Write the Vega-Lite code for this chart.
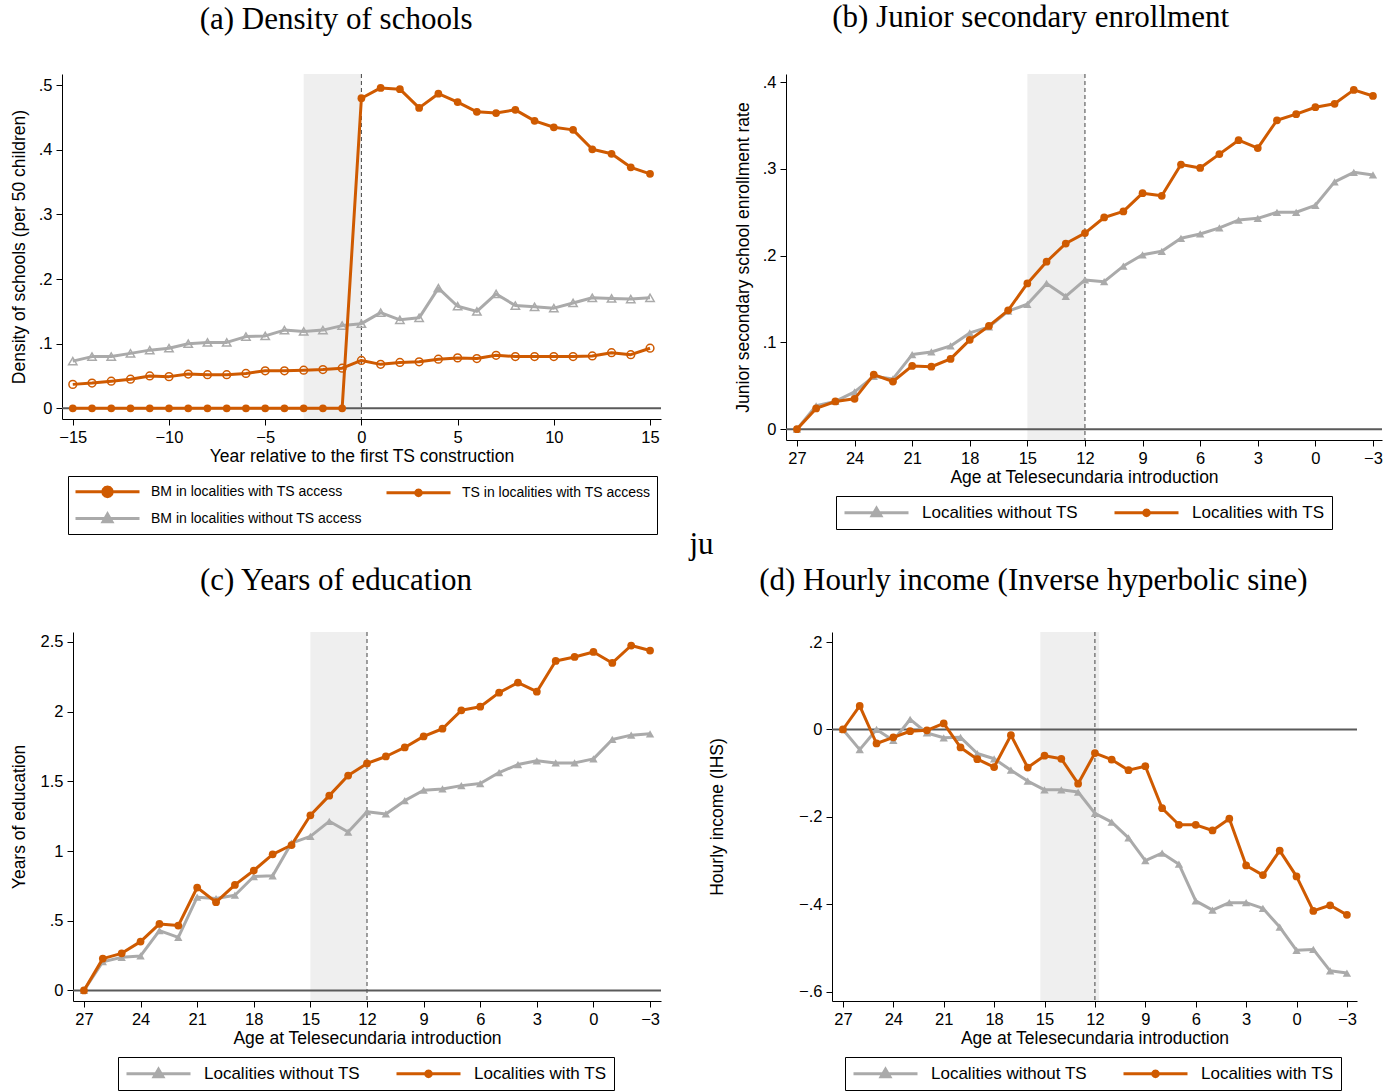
{
  "$schema": "https://vega.github.io/schema/vega-lite/v6.json",
  "background": "white",
  "padding": {"left": 9, "top": 1, "right": 0, "bottom": 0},
  "spacing": -7,
  "config": {
    "font": "Liberation Sans",
    "view": {"stroke": null},
    "axis": {"grid": false, "domainColor": "black", "tickColor": "black", "labelColor": "black", "titleColor": "black", "labelFontSize": 16.5, "titleFontSize": 17.5, "titleFontWeight": "normal", "tickSize": 6, "labelPadding": 4, "labelFlush": false, "labelOverlap": false, "labelFont": "Liberation Sans", "titleFont": "Liberation Sans"},
    "axisY": {"labelAngle": 0, "titlePadding": 10},
    "axisX": {"titlePadding": 2},
    "title": {"font": "Liberation Serif", "fontSize": 31, "fontWeight": "normal", "color": "black", "anchor": "middle", "frame": "bounds"},
    "legend": {"labelFont": "Liberation Sans", "labelColor": "black", "strokeColor": "black", "fillColor": "white", "symbolSize": 256, "symbolStrokeWidth": 3, "labelOffset": 60, "padding": 7, "columnPadding": 30, "rowPadding": 9, "labelLimit": 400, "direction": "horizontal"}
  },
  "resolve": {"scale": {"x": "independent", "y": "independent", "color": "independent"}, "legend": {"color": "independent"}, "axis": {"x": "independent", "y": "independent"}},
  "datasets": {
    "empty": [],
    "bands": [
      {"panel": "a", "start": -3, "end": 0, "event": 0},
      {"panel": "b", "start": 15, "end": 12, "event": 12},
      {"panel": "c", "start": 15, "end": 12, "event": 12},
      {"panel": "d", "start": 15.25, "end": 11.75, "event": 12}
    ],
    "a": [
      {"year": -15, "series": "BM in localities without TS access", "value": 0.073},
      {"year": -14, "series": "BM in localities without TS access", "value": 0.080},
      {"year": -13, "series": "BM in localities without TS access", "value": 0.080},
      {"year": -12, "series": "BM in localities without TS access", "value": 0.085},
      {"year": -11, "series": "BM in localities without TS access", "value": 0.090},
      {"year": -10, "series": "BM in localities without TS access", "value": 0.093},
      {"year": -9, "series": "BM in localities without TS access", "value": 0.100},
      {"year": -8, "series": "BM in localities without TS access", "value": 0.102},
      {"year": -7, "series": "BM in localities without TS access", "value": 0.102},
      {"year": -6, "series": "BM in localities without TS access", "value": 0.111},
      {"year": -5, "series": "BM in localities without TS access", "value": 0.112},
      {"year": -4, "series": "BM in localities without TS access", "value": 0.121},
      {"year": -3, "series": "BM in localities without TS access", "value": 0.119},
      {"year": -2, "series": "BM in localities without TS access", "value": 0.121},
      {"year": -1, "series": "BM in localities without TS access", "value": 0.128},
      {"year": 0, "series": "BM in localities without TS access", "value": 0.131},
      {"year": 1, "series": "BM in localities without TS access", "value": 0.148},
      {"year": 2, "series": "BM in localities without TS access", "value": 0.137},
      {"year": 3, "series": "BM in localities without TS access", "value": 0.140},
      {"year": 4, "series": "BM in localities without TS access", "value": 0.186},
      {"year": 5, "series": "BM in localities without TS access", "value": 0.158},
      {"year": 6, "series": "BM in localities without TS access", "value": 0.150},
      {"year": 7, "series": "BM in localities without TS access", "value": 0.177},
      {"year": 8, "series": "BM in localities without TS access", "value": 0.159},
      {"year": 9, "series": "BM in localities without TS access", "value": 0.157},
      {"year": 10, "series": "BM in localities without TS access", "value": 0.155},
      {"year": 11, "series": "BM in localities without TS access", "value": 0.163},
      {"year": 12, "series": "BM in localities without TS access", "value": 0.171},
      {"year": 13, "series": "BM in localities without TS access", "value": 0.170},
      {"year": 14, "series": "BM in localities without TS access", "value": 0.169},
      {"year": 15, "series": "BM in localities without TS access", "value": 0.171},
      {"year": -15, "series": "BM in localities with TS access", "value": 0.037},
      {"year": -14, "series": "BM in localities with TS access", "value": 0.039},
      {"year": -13, "series": "BM in localities with TS access", "value": 0.042},
      {"year": -12, "series": "BM in localities with TS access", "value": 0.045},
      {"year": -11, "series": "BM in localities with TS access", "value": 0.050},
      {"year": -10, "series": "BM in localities with TS access", "value": 0.049},
      {"year": -9, "series": "BM in localities with TS access", "value": 0.053},
      {"year": -8, "series": "BM in localities with TS access", "value": 0.052},
      {"year": -7, "series": "BM in localities with TS access", "value": 0.052},
      {"year": -6, "series": "BM in localities with TS access", "value": 0.054},
      {"year": -5, "series": "BM in localities with TS access", "value": 0.058},
      {"year": -4, "series": "BM in localities with TS access", "value": 0.058},
      {"year": -3, "series": "BM in localities with TS access", "value": 0.059},
      {"year": -2, "series": "BM in localities with TS access", "value": 0.060},
      {"year": -1, "series": "BM in localities with TS access", "value": 0.062},
      {"year": 0, "series": "BM in localities with TS access", "value": 0.074},
      {"year": 1, "series": "BM in localities with TS access", "value": 0.068},
      {"year": 2, "series": "BM in localities with TS access", "value": 0.071},
      {"year": 3, "series": "BM in localities with TS access", "value": 0.072},
      {"year": 4, "series": "BM in localities with TS access", "value": 0.076},
      {"year": 5, "series": "BM in localities with TS access", "value": 0.078},
      {"year": 6, "series": "BM in localities with TS access", "value": 0.077},
      {"year": 7, "series": "BM in localities with TS access", "value": 0.082},
      {"year": 8, "series": "BM in localities with TS access", "value": 0.080},
      {"year": 9, "series": "BM in localities with TS access", "value": 0.080},
      {"year": 10, "series": "BM in localities with TS access", "value": 0.080},
      {"year": 11, "series": "BM in localities with TS access", "value": 0.080},
      {"year": 12, "series": "BM in localities with TS access", "value": 0.081},
      {"year": 13, "series": "BM in localities with TS access", "value": 0.086},
      {"year": 14, "series": "BM in localities with TS access", "value": 0.083},
      {"year": 15, "series": "BM in localities with TS access", "value": 0.093},
      {"year": -15, "series": "TS in localities with TS access", "value": 0},
      {"year": -14, "series": "TS in localities with TS access", "value": 0},
      {"year": -13, "series": "TS in localities with TS access", "value": 0},
      {"year": -12, "series": "TS in localities with TS access", "value": 0},
      {"year": -11, "series": "TS in localities with TS access", "value": 0},
      {"year": -10, "series": "TS in localities with TS access", "value": 0},
      {"year": -9, "series": "TS in localities with TS access", "value": 0},
      {"year": -8, "series": "TS in localities with TS access", "value": 0},
      {"year": -7, "series": "TS in localities with TS access", "value": 0},
      {"year": -6, "series": "TS in localities with TS access", "value": 0},
      {"year": -5, "series": "TS in localities with TS access", "value": 0},
      {"year": -4, "series": "TS in localities with TS access", "value": 0},
      {"year": -3, "series": "TS in localities with TS access", "value": 0},
      {"year": -2, "series": "TS in localities with TS access", "value": 0},
      {"year": -1, "series": "TS in localities with TS access", "value": 0},
      {"year": 0, "series": "TS in localities with TS access", "value": 0.480},
      {"year": 1, "series": "TS in localities with TS access", "value": 0.496},
      {"year": 2, "series": "TS in localities with TS access", "value": 0.494},
      {"year": 3, "series": "TS in localities with TS access", "value": 0.465},
      {"year": 4, "series": "TS in localities with TS access", "value": 0.487},
      {"year": 5, "series": "TS in localities with TS access", "value": 0.474},
      {"year": 6, "series": "TS in localities with TS access", "value": 0.459},
      {"year": 7, "series": "TS in localities with TS access", "value": 0.457},
      {"year": 8, "series": "TS in localities with TS access", "value": 0.462},
      {"year": 9, "series": "TS in localities with TS access", "value": 0.445},
      {"year": 10, "series": "TS in localities with TS access", "value": 0.435},
      {"year": 11, "series": "TS in localities with TS access", "value": 0.431},
      {"year": 12, "series": "TS in localities with TS access", "value": 0.401},
      {"year": 13, "series": "TS in localities with TS access", "value": 0.394},
      {"year": 14, "series": "TS in localities with TS access", "value": 0.373},
      {"year": 15, "series": "TS in localities with TS access", "value": 0.363}
    ],
    "b": [
      {"age": 27, "series": "Localities without TS", "value": 0},
      {"age": 26, "series": "Localities without TS", "value": 0.027},
      {"age": 25, "series": "Localities without TS", "value": 0.032},
      {"age": 24, "series": "Localities without TS", "value": 0.043},
      {"age": 23, "series": "Localities without TS", "value": 0.061},
      {"age": 22, "series": "Localities without TS", "value": 0.058},
      {"age": 21, "series": "Localities without TS", "value": 0.086},
      {"age": 20, "series": "Localities without TS", "value": 0.089},
      {"age": 19, "series": "Localities without TS", "value": 0.096},
      {"age": 18, "series": "Localities without TS", "value": 0.111},
      {"age": 17, "series": "Localities without TS", "value": 0.118},
      {"age": 16, "series": "Localities without TS", "value": 0.136},
      {"age": 15, "series": "Localities without TS", "value": 0.144},
      {"age": 14, "series": "Localities without TS", "value": 0.168},
      {"age": 13, "series": "Localities without TS", "value": 0.153},
      {"age": 12, "series": "Localities without TS", "value": 0.172},
      {"age": 11, "series": "Localities without TS", "value": 0.170},
      {"age": 10, "series": "Localities without TS", "value": 0.188},
      {"age": 9, "series": "Localities without TS", "value": 0.201},
      {"age": 8, "series": "Localities without TS", "value": 0.205},
      {"age": 7, "series": "Localities without TS", "value": 0.220},
      {"age": 6, "series": "Localities without TS", "value": 0.225},
      {"age": 5, "series": "Localities without TS", "value": 0.232},
      {"age": 4, "series": "Localities without TS", "value": 0.241},
      {"age": 3, "series": "Localities without TS", "value": 0.243},
      {"age": 2, "series": "Localities without TS", "value": 0.250},
      {"age": 1, "series": "Localities without TS", "value": 0.250},
      {"age": 0, "series": "Localities without TS", "value": 0.258},
      {"age": -1, "series": "Localities without TS", "value": 0.285},
      {"age": -2, "series": "Localities without TS", "value": 0.296},
      {"age": -3, "series": "Localities without TS", "value": 0.293},
      {"age": 27, "series": "Localities with TS", "value": 0},
      {"age": 26, "series": "Localities with TS", "value": 0.024},
      {"age": 25, "series": "Localities with TS", "value": 0.032},
      {"age": 24, "series": "Localities with TS", "value": 0.035},
      {"age": 23, "series": "Localities with TS", "value": 0.063},
      {"age": 22, "series": "Localities with TS", "value": 0.055},
      {"age": 21, "series": "Localities with TS", "value": 0.073},
      {"age": 20, "series": "Localities with TS", "value": 0.072},
      {"age": 19, "series": "Localities with TS", "value": 0.081},
      {"age": 18, "series": "Localities with TS", "value": 0.103},
      {"age": 17, "series": "Localities with TS", "value": 0.119},
      {"age": 16, "series": "Localities with TS", "value": 0.137},
      {"age": 15, "series": "Localities with TS", "value": 0.168},
      {"age": 14, "series": "Localities with TS", "value": 0.193},
      {"age": 13, "series": "Localities with TS", "value": 0.214},
      {"age": 12, "series": "Localities with TS", "value": 0.226},
      {"age": 11, "series": "Localities with TS", "value": 0.244},
      {"age": 10, "series": "Localities with TS", "value": 0.251},
      {"age": 9, "series": "Localities with TS", "value": 0.272},
      {"age": 8, "series": "Localities with TS", "value": 0.269},
      {"age": 7, "series": "Localities with TS", "value": 0.305},
      {"age": 6, "series": "Localities with TS", "value": 0.301},
      {"age": 5, "series": "Localities with TS", "value": 0.317},
      {"age": 4, "series": "Localities with TS", "value": 0.333},
      {"age": 3, "series": "Localities with TS", "value": 0.324},
      {"age": 2, "series": "Localities with TS", "value": 0.356},
      {"age": 1, "series": "Localities with TS", "value": 0.363},
      {"age": 0, "series": "Localities with TS", "value": 0.371},
      {"age": -1, "series": "Localities with TS", "value": 0.375},
      {"age": -2, "series": "Localities with TS", "value": 0.391},
      {"age": -3, "series": "Localities with TS", "value": 0.384}
    ],
    "c": [
      {"age": 27, "series": "Localities without TS", "value": 0},
      {"age": 26, "series": "Localities without TS", "value": 0.206},
      {"age": 25, "series": "Localities without TS", "value": 0.237},
      {"age": 24, "series": "Localities without TS", "value": 0.247},
      {"age": 23, "series": "Localities without TS", "value": 0.429},
      {"age": 22, "series": "Localities without TS", "value": 0.381},
      {"age": 21, "series": "Localities without TS", "value": 0.669},
      {"age": 20, "series": "Localities without TS", "value": 0.659},
      {"age": 19, "series": "Localities without TS", "value": 0.683},
      {"age": 18, "series": "Localities without TS", "value": 0.817},
      {"age": 17, "series": "Localities without TS", "value": 0.822},
      {"age": 16, "series": "Localities without TS", "value": 1.057},
      {"age": 15, "series": "Localities without TS", "value": 1.105},
      {"age": 14, "series": "Localities without TS", "value": 1.213},
      {"age": 13, "series": "Localities without TS", "value": 1.136},
      {"age": 12, "series": "Localities without TS", "value": 1.282},
      {"age": 11, "series": "Localities without TS", "value": 1.266},
      {"age": 10, "series": "Localities without TS", "value": 1.361},
      {"age": 9, "series": "Localities without TS", "value": 1.436},
      {"age": 8, "series": "Localities without TS", "value": 1.445},
      {"age": 7, "series": "Localities without TS", "value": 1.469},
      {"age": 6, "series": "Localities without TS", "value": 1.484},
      {"age": 5, "series": "Localities without TS", "value": 1.563},
      {"age": 4, "series": "Localities without TS", "value": 1.620},
      {"age": 3, "series": "Localities without TS", "value": 1.647},
      {"age": 2, "series": "Localities without TS", "value": 1.632},
      {"age": 1, "series": "Localities without TS", "value": 1.632},
      {"age": 0, "series": "Localities without TS", "value": 1.661},
      {"age": -1, "series": "Localities without TS", "value": 1.800},
      {"age": -2, "series": "Localities without TS", "value": 1.831},
      {"age": -3, "series": "Localities without TS", "value": 1.841},
      {"age": 27, "series": "Localities with TS", "value": 0},
      {"age": 26, "series": "Localities with TS", "value": 0.228},
      {"age": 25, "series": "Localities with TS", "value": 0.266},
      {"age": 24, "series": "Localities with TS", "value": 0.350},
      {"age": 23, "series": "Localities with TS", "value": 0.477},
      {"age": 22, "series": "Localities with TS", "value": 0.465},
      {"age": 21, "series": "Localities with TS", "value": 0.738},
      {"age": 20, "series": "Localities with TS", "value": 0.633},
      {"age": 19, "series": "Localities with TS", "value": 0.757},
      {"age": 18, "series": "Localities with TS", "value": 0.860},
      {"age": 17, "series": "Localities with TS", "value": 0.976},
      {"age": 16, "series": "Localities with TS", "value": 1.043},
      {"age": 15, "series": "Localities with TS", "value": 1.256},
      {"age": 14, "series": "Localities with TS", "value": 1.397},
      {"age": 13, "series": "Localities with TS", "value": 1.541},
      {"age": 12, "series": "Localities with TS", "value": 1.628},
      {"age": 11, "series": "Localities with TS", "value": 1.678},
      {"age": 10, "series": "Localities with TS", "value": 1.743},
      {"age": 9, "series": "Localities with TS", "value": 1.822},
      {"age": 8, "series": "Localities with TS", "value": 1.877},
      {"age": 7, "series": "Localities with TS", "value": 2.009},
      {"age": 6, "series": "Localities with TS", "value": 2.035},
      {"age": 5, "series": "Localities with TS", "value": 2.136},
      {"age": 4, "series": "Localities with TS", "value": 2.208},
      {"age": 3, "series": "Localities with TS", "value": 2.143},
      {"age": 2, "series": "Localities with TS", "value": 2.363},
      {"age": 1, "series": "Localities with TS", "value": 2.392},
      {"age": 0, "series": "Localities with TS", "value": 2.428},
      {"age": -1, "series": "Localities with TS", "value": 2.349},
      {"age": -2, "series": "Localities with TS", "value": 2.474},
      {"age": -3, "series": "Localities with TS", "value": 2.438}
    ],
    "d": [
      {"age": 27, "series": "Localities without TS", "value": 0},
      {"age": 26, "series": "Localities without TS", "value": -0.046},
      {"age": 25, "series": "Localities without TS", "value": 0},
      {"age": 24, "series": "Localities without TS", "value": -0.025},
      {"age": 23, "series": "Localities without TS", "value": 0.023},
      {"age": 22, "series": "Localities without TS", "value": -0.008},
      {"age": 21, "series": "Localities without TS", "value": -0.019},
      {"age": 20, "series": "Localities without TS", "value": -0.018},
      {"age": 19, "series": "Localities without TS", "value": -0.055},
      {"age": 18, "series": "Localities without TS", "value": -0.067},
      {"age": 17, "series": "Localities without TS", "value": -0.093},
      {"age": 16, "series": "Localities without TS", "value": -0.118},
      {"age": 15, "series": "Localities without TS", "value": -0.138},
      {"age": 14, "series": "Localities without TS", "value": -0.138},
      {"age": 13, "series": "Localities without TS", "value": -0.143},
      {"age": 12, "series": "Localities without TS", "value": -0.192},
      {"age": 11, "series": "Localities without TS", "value": -0.212},
      {"age": 10, "series": "Localities without TS", "value": -0.248},
      {"age": 9, "series": "Localities without TS", "value": -0.300},
      {"age": 8, "series": "Localities without TS", "value": -0.283},
      {"age": 7, "series": "Localities without TS", "value": -0.308},
      {"age": 6, "series": "Localities without TS", "value": -0.392},
      {"age": 5, "series": "Localities without TS", "value": -0.413},
      {"age": 4, "series": "Localities without TS", "value": -0.396},
      {"age": 3, "series": "Localities without TS", "value": -0.396},
      {"age": 2, "series": "Localities without TS", "value": -0.409},
      {"age": 1, "series": "Localities without TS", "value": -0.452},
      {"age": 0, "series": "Localities without TS", "value": -0.505},
      {"age": -1, "series": "Localities without TS", "value": -0.503},
      {"age": -2, "series": "Localities without TS", "value": -0.552},
      {"age": -3, "series": "Localities without TS", "value": -0.557},
      {"age": 27, "series": "Localities with TS", "value": 0},
      {"age": 26, "series": "Localities with TS", "value": 0.054},
      {"age": 25, "series": "Localities with TS", "value": -0.032},
      {"age": 24, "series": "Localities with TS", "value": -0.018},
      {"age": 23, "series": "Localities with TS", "value": -0.004},
      {"age": 22, "series": "Localities with TS", "value": -0.002},
      {"age": 21, "series": "Localities with TS", "value": 0.014},
      {"age": 20, "series": "Localities with TS", "value": -0.041},
      {"age": 19, "series": "Localities with TS", "value": -0.068},
      {"age": 18, "series": "Localities with TS", "value": -0.086},
      {"age": 17, "series": "Localities with TS", "value": -0.013},
      {"age": 16, "series": "Localities with TS", "value": -0.087},
      {"age": 15, "series": "Localities with TS", "value": -0.060},
      {"age": 14, "series": "Localities with TS", "value": -0.067},
      {"age": 13, "series": "Localities with TS", "value": -0.124},
      {"age": 12, "series": "Localities with TS", "value": -0.054},
      {"age": 11, "series": "Localities with TS", "value": -0.069},
      {"age": 10, "series": "Localities with TS", "value": -0.093},
      {"age": 9, "series": "Localities with TS", "value": -0.084},
      {"age": 8, "series": "Localities with TS", "value": -0.180},
      {"age": 7, "series": "Localities with TS", "value": -0.218},
      {"age": 6, "series": "Localities with TS", "value": -0.218},
      {"age": 5, "series": "Localities with TS", "value": -0.231},
      {"age": 4, "series": "Localities with TS", "value": -0.204},
      {"age": 3, "series": "Localities with TS", "value": -0.311},
      {"age": 2, "series": "Localities with TS", "value": -0.333},
      {"age": 1, "series": "Localities with TS", "value": -0.277},
      {"age": 0, "series": "Localities with TS", "value": -0.336},
      {"age": -1, "series": "Localities with TS", "value": -0.415},
      {"age": -2, "series": "Localities with TS", "value": -0.402},
      {"age": -3, "series": "Localities with TS", "value": -0.424}
    ]
  },
  "vconcat": [
    {
      "spacing": 0,
      "resolve": {"scale": {"x": "independent", "y": "independent", "color": "independent"}, "legend": {"color": "independent"}, "axis": {"x": "independent", "y": "independent"}},
      "hconcat": [
        {"width": 1, "height": 1, "data": {"name": "empty"}, "mark": "point"},
        {
          "spacing": 72,
          "resolve": {"scale": {"x": "independent", "y": "independent", "color": "independent"}, "legend": {"color": "independent"}, "axis": {"x": "independent", "y": "independent"}},
          "hconcat": [
            {
              "width": 599, "height": 345,
              "title": {"text": "(a) Density of schools", "offset": 38},
              "layer": [
                {"data": {"name": "bands"}, "transform": [{"filter": "datum.panel == 'a'"}], "mark": {"type": "rect", "color": "#efefef"},
                 "encoding": {"x": {"field": "start", "type": "quantitative", "scale": {"domain": [-15.56, 15.57], "nice": false, "zero": false}, "axis": {"values": [-15, -10, -5, 0, 5, 10, 15], "title": "Year relative to the first TS construction", "labelExpr": "replace(format(datum.value, 'd'), '-', '−')"}}, "x2": {"field": "end"}}},
                {"data": {"name": "bands"}, "transform": [{"filter": "datum.panel == 'a'"}], "mark": {"type": "rule", "color": "#444444", "strokeDash": [4, 3], "strokeWidth": 1},
                 "encoding": {"x": {"field": "event", "type": "quantitative"}}},
                {"data": {"values": [{}]}, "mark": {"type": "rule", "color": "#5a5a5a", "strokeWidth": 2},
                 "encoding": {"y": {"datum": 0, "type": "quantitative", "scale": {"domain": [-0.0166, 0.5175], "nice": false, "zero": false}, "axis": {"values": [0, 0.1, 0.2, 0.3, 0.4, 0.5], "title": "Density of schools (per 50 children)", "labelExpr": "datum.value == 0 ? '0' : (datum.value == floor(datum.value) ? format(datum.value, 'd') : replace(replace(format(datum.value, '.1f'), '0.', '.'), '-', '−'))"}}}},
                {"data": {"name": "a"}, "transform": [{"filter": "datum.series == 'BM in localities without TS access'"}],
                 "mark": {"type": "line", "strokeWidth": 3, "strokeJoin": "round", "point": {"filled": false, "shape": "triangle-up", "size": 70, "strokeWidth": 1.5, "opacity": 1}},
                 "encoding": {"x": {"field": "year", "type": "quantitative"}, "y": {"field": "value", "type": "quantitative"},
                  "color": {"field": "series", "type": "nominal",
                   "scale": {"domain": ["BM in localities with TS access", "TS in localities with TS access", "BM in localities without TS access"], "range": ["#cf5a00", "#cf5a00", "#aaaaaa"]},
                   "legend": {"title": null, "orient": "none", "legendX": 6, "legendY": 402, "columns": 2, "direction": "horizontal", "columnPadding": 18, "rowPadding": 5, "padding": 6, "labelFontSize": 14, "labelOffset": 58,
                    "encode": {"symbols": {"update": {
                      "shape": {"signal": "datum.value == 'BM in localities without TS access' ? 'M-1,0L7,0M3,-0.55L3.55,0.4L2.45,0.4Z' : (datum.value == 'BM in localities with TS access' ? 'M-1,0L7,0M3.6,0L3.52,0.3L3.3,0.52L3,0.6L2.7,0.52L2.48,0.3L2.4,0L2.48,-0.3L2.7,-0.52L3,-0.6L3.3,-0.52L3.52,-0.3Z' : 'M-1,0L7,0M3.35,0L3.303,0.175L3.175,0.303L3,0.35L2.825,0.303L2.697,0.175L2.65,0L2.697,-0.175L2.825,-0.303L3,-0.35L3.175,-0.303L3.303,-0.175Z')"},
                      "stroke": {"signal": "datum.value == 'BM in localities without TS access' ? '#aaaaaa' : '#cf5a00'"},
                      "fill": {"signal": "datum.value == 'BM in localities without TS access' ? '#aaaaaa' : (datum.value == 'BM in localities with TS access' ? 'white' : '#cf5a00')"},
                      "strokeWidth": {"value": 3},
                      "opacity": {"value": 1}
                    }}}}}}},
                {"data": {"name": "a"}, "transform": [{"filter": "datum.series == 'BM in localities with TS access'"}],
                 "mark": {"type": "line", "strokeWidth": 3, "strokeJoin": "round", "point": {"filled": false, "shape": "circle", "size": 60, "strokeWidth": 1.5, "opacity": 1}},
                 "encoding": {"x": {"field": "year", "type": "quantitative"}, "y": {"field": "value", "type": "quantitative"}, "color": {"field": "series", "type": "nominal"}}},
                {"data": {"name": "a"}, "transform": [{"filter": "datum.series == 'TS in localities with TS access'"}],
                 "mark": {"type": "line", "strokeWidth": 3, "strokeJoin": "round", "point": {"filled": true, "shape": "circle", "size": 60, "opacity": 1}},
                 "encoding": {"x": {"field": "year", "type": "quantitative"}, "y": {"field": "value", "type": "quantitative"}, "color": {"field": "series", "type": "nominal"}}}
              ]
            },
            {
              "width": 596, "height": 366,
              "title": {"text": "(b) Junior secondary enrollment", "offset": 40, "dx": -28},
              "layer": [
                {"data": {"name": "bands"}, "transform": [{"filter": "datum.panel == 'b'"}], "mark": {"type": "rect", "color": "#efefef"},
                 "encoding": {"x": {"field": "start", "type": "quantitative", "scale": {"domain": [-3.47, 27.57], "reverse": true, "nice": false, "zero": false}, "axis": {"values": [27, 24, 21, 18, 15, 12, 9, 6, 3, 0, -3], "title": "Age at Telesecundaria introduction", "labelExpr": "replace(format(datum.value, 'd'), '-', '−')"}}, "x2": {"field": "end"}}},
                {"data": {"name": "bands"}, "transform": [{"filter": "datum.panel == 'b'"}], "mark": {"type": "rule", "color": "#444444", "strokeDash": [4, 3], "strokeWidth": 1},
                 "encoding": {"x": {"field": "event", "type": "quantitative"}}},
                {"data": {"values": [{}]}, "mark": {"type": "rule", "color": "#5a5a5a", "strokeWidth": 2},
                 "encoding": {"y": {"datum": 0, "type": "quantitative", "scale": {"domain": [-0.0124, 0.4093], "nice": false, "zero": false}, "axis": {"values": [0, 0.1, 0.2, 0.3, 0.4], "title": "Junior secondary school enrollment rate", "labelExpr": "datum.value == 0 ? '0' : (datum.value == floor(datum.value) ? format(datum.value, 'd') : replace(replace(format(datum.value, '.1f'), '0.', '.'), '-', '−'))"}}}},
                {"data": {"name": "b"}, "transform": [{"filter": "datum.series == 'Localities without TS'"}],
                 "mark": {"type": "line", "strokeWidth": 3, "strokeJoin": "round", "point": {"filled": true, "shape": "triangle-up", "size": 70, "opacity": 1}},
                 "encoding": {"x": {"field": "age", "type": "quantitative"}, "y": {"field": "value", "type": "quantitative"},
                  "color": {"field": "series", "type": "nominal", "scale": {"domain": ["Localities without TS", "Localities with TS"], "range": ["#aaaaaa", "#cf5a00"]},
                   "legend": {"title": null, "orient": "none", "legendX": 50, "legendY": 422, "columns": 2, "labelFontSize": 17,
                    "encode": {"symbols": {"update": {
                      "shape": {"signal": "datum.value == 'Localities without TS' ? 'M-1,0L7,0M3,-0.55L3.55,0.4L2.45,0.4Z' : 'M-1,0L7,0M3.35,0L3.303,0.175L3.175,0.303L3,0.35L2.825,0.303L2.697,0.175L2.65,0L2.697,-0.175L2.825,-0.303L3,-0.35L3.175,-0.303L3.303,-0.175Z'"},
                      "stroke": {"signal": "datum.value == 'Localities without TS' ? '#aaaaaa' : '#cf5a00'"},
                      "fill": {"signal": "datum.value == 'Localities without TS' ? '#aaaaaa' : '#cf5a00'"},
                      "strokeWidth": {"value": 3},
                      "opacity": {"value": 1}
                    }}}}}}},
                {"data": {"name": "b"}, "transform": [{"filter": "datum.series == 'Localities with TS'"}],
                 "mark": {"type": "line", "strokeWidth": 3, "strokeJoin": "round", "point": {"filled": true, "shape": "circle", "size": 60, "opacity": 1}},
                 "encoding": {"x": {"field": "age", "type": "quantitative"}, "y": {"field": "value", "type": "quantitative"}, "color": {"field": "series", "type": "nominal"}}}
              ]
            }
          ]
        }
      ]
    },
    {
      "spacing": 0,
      "title": {"text": "ju", "offset": 4, "dx": 18, "frame": "bounds"},
      "resolve": {"scale": {"x": "independent", "y": "independent", "color": "independent"}, "legend": {"color": "independent"}, "axis": {"x": "independent", "y": "independent"}},
      "hconcat": [
        {"width": 1, "height": 1, "data": {"name": "empty"}, "mark": "point"},
        {
          "spacing": 46,
          "resolve": {"scale": {"x": "independent", "y": "independent", "color": "independent"}, "legend": {"color": "independent"}, "axis": {"x": "independent", "y": "independent"}},
          "hconcat": [
            {
              "width": 588, "height": 369,
              "title": {"text": "(c) Years of education", "offset": 35},
              "layer": [
                {"data": {"name": "bands"}, "transform": [{"filter": "datum.panel == 'c'"}], "mark": {"type": "rect", "color": "#efefef"},
                 "encoding": {"x": {"field": "start", "type": "quantitative", "scale": {"domain": [-3.58, 27.58], "reverse": true, "nice": false, "zero": false}, "axis": {"values": [27, 24, 21, 18, 15, 12, 9, 6, 3, 0, -3], "title": "Age at Telesecundaria introduction", "labelExpr": "replace(format(datum.value, 'd'), '-', '−')"}}, "x2": {"field": "end"}}},
                {"data": {"name": "bands"}, "transform": [{"filter": "datum.panel == 'c'"}], "mark": {"type": "rule", "color": "#444444", "strokeDash": [4, 3], "strokeWidth": 1},
                 "encoding": {"x": {"field": "event", "type": "quantitative"}}},
                {"data": {"values": [{}]}, "mark": {"type": "rule", "color": "#5a5a5a", "strokeWidth": 2},
                 "encoding": {"y": {"datum": 0, "type": "quantitative", "scale": {"domain": [-0.076, 2.571], "nice": false, "zero": false}, "axis": {"values": [0, 0.5, 1, 1.5, 2, 2.5], "title": "Years of education", "titlePadding": 12, "labelExpr": "datum.value == 0 ? '0' : (datum.value == floor(datum.value) ? format(datum.value, 'd') : replace(replace(format(datum.value, '.1f'), '0.', '.'), '-', '−'))"}}}},
                {"data": {"name": "c"}, "transform": [{"filter": "datum.series == 'Localities without TS'"}],
                 "mark": {"type": "line", "strokeWidth": 3, "strokeJoin": "round", "point": {"filled": true, "shape": "triangle-up", "size": 70, "opacity": 1}},
                 "encoding": {"x": {"field": "age", "type": "quantitative"}, "y": {"field": "value", "type": "quantitative"},
                  "color": {"field": "series", "type": "nominal", "scale": {"domain": ["Localities without TS", "Localities with TS"], "range": ["#aaaaaa", "#cf5a00"]},
                   "legend": {"title": null, "orient": "none", "legendX": 45, "legendY": 425, "columns": 2, "labelFontSize": 17,
                    "encode": {"symbols": {"update": {
                      "shape": {"signal": "datum.value == 'Localities without TS' ? 'M-1,0L7,0M3,-0.55L3.55,0.4L2.45,0.4Z' : 'M-1,0L7,0M3.35,0L3.303,0.175L3.175,0.303L3,0.35L2.825,0.303L2.697,0.175L2.65,0L2.697,-0.175L2.825,-0.303L3,-0.35L3.175,-0.303L3.303,-0.175Z'"},
                      "stroke": {"signal": "datum.value == 'Localities without TS' ? '#aaaaaa' : '#cf5a00'"},
                      "fill": {"signal": "datum.value == 'Localities without TS' ? '#aaaaaa' : '#cf5a00'"},
                      "strokeWidth": {"value": 3},
                      "opacity": {"value": 1}
                    }}}}}}},
                {"data": {"name": "c"}, "transform": [{"filter": "datum.series == 'Localities with TS'"}],
                 "mark": {"type": "line", "strokeWidth": 3, "strokeJoin": "round", "point": {"filled": true, "shape": "circle", "size": 60, "opacity": 1}},
                 "encoding": {"x": {"field": "age", "type": "quantitative"}, "y": {"field": "value", "type": "quantitative"}, "color": {"field": "series", "type": "nominal"}}}
              ]
            },
            {
              "width": 525, "height": 369,
              "title": {"text": "(d) Hourly income (Inverse hyperbolic sine)", "offset": 35},
              "layer": [
                {"data": {"name": "bands"}, "transform": [{"filter": "datum.panel == 'd'"}], "mark": {"type": "rect", "color": "#efefef"},
                 "encoding": {"x": {"field": "start", "type": "quantitative", "scale": {"domain": [-3.6, 27.65], "reverse": true, "nice": false, "zero": false}, "axis": {"values": [27, 24, 21, 18, 15, 12, 9, 6, 3, 0, -3], "title": "Age at Telesecundaria introduction", "labelExpr": "replace(format(datum.value, 'd'), '-', '−')"}}, "x2": {"field": "end"}}},
                {"data": {"name": "bands"}, "transform": [{"filter": "datum.panel == 'd'"}], "mark": {"type": "rule", "color": "#444444", "strokeDash": [4, 3], "strokeWidth": 1},
                 "encoding": {"x": {"field": "event", "type": "quantitative"}}},
                {"data": {"values": [{}]}, "mark": {"type": "rule", "color": "#5a5a5a", "strokeWidth": 2},
                 "encoding": {"y": {"datum": 0, "type": "quantitative", "scale": {"domain": [-0.621, 0.223], "nice": false, "zero": false}, "axis": {"values": [-0.6, -0.4, -0.2, 0, 0.2], "title": "Hourly income (IHS)", "titlePadding": 72, "labelExpr": "datum.value == 0 ? '0' : (datum.value == floor(datum.value) ? format(datum.value, 'd') : replace(replace(format(datum.value, '.1f'), '0.', '.'), '-', '−'))"}}}},
                {"data": {"name": "d"}, "transform": [{"filter": "datum.series == 'Localities without TS'"}],
                 "mark": {"type": "line", "strokeWidth": 3, "strokeJoin": "round", "point": {"filled": true, "shape": "triangle-up", "size": 70, "opacity": 1}},
                 "encoding": {"x": {"field": "age", "type": "quantitative"}, "y": {"field": "value", "type": "quantitative"},
                  "color": {"field": "series", "type": "nominal", "scale": {"domain": ["Localities without TS", "Localities with TS"], "range": ["#aaaaaa", "#cf5a00"]},
                   "legend": {"title": null, "orient": "none", "legendX": 13, "legendY": 425, "columns": 2, "labelFontSize": 17,
                    "encode": {"symbols": {"update": {
                      "shape": {"signal": "datum.value == 'Localities without TS' ? 'M-1,0L7,0M3,-0.55L3.55,0.4L2.45,0.4Z' : 'M-1,0L7,0M3.35,0L3.303,0.175L3.175,0.303L3,0.35L2.825,0.303L2.697,0.175L2.65,0L2.697,-0.175L2.825,-0.303L3,-0.35L3.175,-0.303L3.303,-0.175Z'"},
                      "stroke": {"signal": "datum.value == 'Localities without TS' ? '#aaaaaa' : '#cf5a00'"},
                      "fill": {"signal": "datum.value == 'Localities without TS' ? '#aaaaaa' : '#cf5a00'"},
                      "strokeWidth": {"value": 3},
                      "opacity": {"value": 1}
                    }}}}}}},
                {"data": {"name": "d"}, "transform": [{"filter": "datum.series == 'Localities with TS'"}],
                 "mark": {"type": "line", "strokeWidth": 3, "strokeJoin": "round", "point": {"filled": true, "shape": "circle", "size": 60, "opacity": 1}},
                 "encoding": {"x": {"field": "age", "type": "quantitative"}, "y": {"field": "value", "type": "quantitative"}, "color": {"field": "series", "type": "nominal"}}}
              ]
            }
          ]
        }
      ]
    }
  ]
}
